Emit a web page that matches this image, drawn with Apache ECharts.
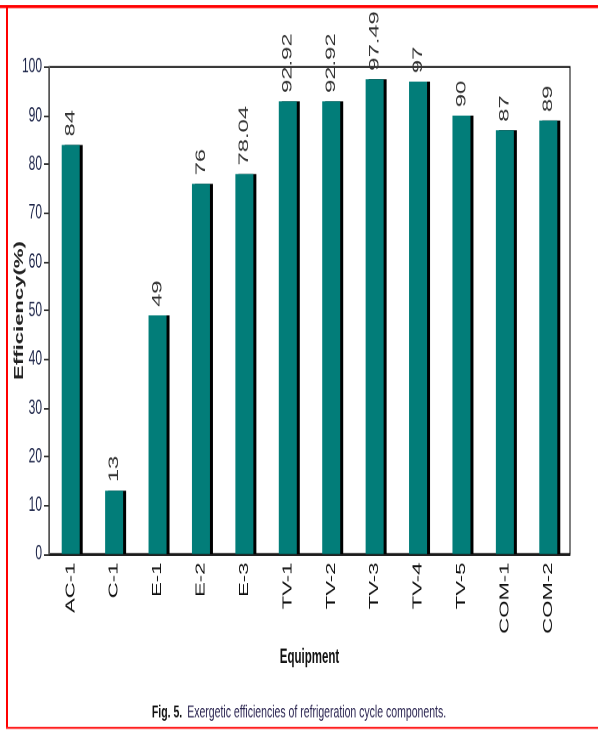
<!DOCTYPE html>
<html>
<head>
<meta charset="utf-8">
<script src="https://cdn.jsdelivr.net/npm/echarts@6/dist/echarts.min.js"></script>
<style>
  html, body { margin: 0; padding: 0; background: #fff; }
  #page { width: 598px; height: 731px; position: relative; }
  /* the original figure is stretched vertically, so draw it short and stretch it */
  #chart { position: absolute; left: 0; top: 0; width: 598px; height: 430px; transform: scaleY(1.7); transform-origin: 0 0; }
</style>
</head>
<body>
<div id="page"><div id="chart"></div></div>
<script>
// equipment and their exergetic efficiency (%)
var equipment = ['AC-1', 'C-1', 'E-1', 'E-2', 'E-3', 'TV-1', 'TV-2', 'TV-3', 'TV-4', 'TV-5', 'COM-1', 'COM-2'];
var efficiency = [84, 13, 49, 76, 78.04, 92.92, 92.92, 97.49, 97, 90, 87, 89];
var yTicks = [0, 10, 20, 30, 40, 50, 60, 70, 80, 90, 100];

var sans = 'Arial, "Liberation Sans", sans-serif';

var chart = echarts.init(document.getElementById('chart'), null, { devicePixelRatio: 2 });

var option = {
    animation: false,
    title: {
        text: '{b|Fig. 5.} {n|Exergetic efficiencies of refrigeration cycle components.}',
        left: 'center',
        top: 410,
        padding: 0,
        textStyle: {
            rich: {
                b: { fontFamily: sans, fontWeight: 'bold', fontSize: 10.5, color: '#111' },
                n: { fontFamily: sans, fontWeight: 'normal', fontSize: 10.5, color: '#2a2450' }
            }
        }
    },
    grid: {
        left: 49,
        top: 39.4,
        right: 28,
        bottom: 104.1,
        outerBoundsMode: 'none',
        show: true,
        borderColor: '#000',
        borderWidth: 1
    },
    xAxis: {
        type: 'category',
        data: equipment,
        name: 'Equipment',
        nameLocation: 'middle',
        nameGap: 55,
        nameMoveOverlap: false,
        nameTextStyle: { fontFamily: sans, fontWeight: 'bold', fontSize: 11.5, color: '#111' },
        axisLine: { lineStyle: { color: '#222', width: 1 } },
        axisTick: { show: false },
        axisLabel: {
            rotate: 90,
            margin: 5,
            fontFamily: sans,
            fontSize: 13,
            color: '#111'
        }
    },
    yAxis: {
        type: 'value',
        min: 0,
        max: 100,
        interval: 10,
        name: 'Efficiency(%)',
        nameLocation: 'middle',
        nameGap: 23,
        nameMoveOverlap: false,
        nameTextStyle: { fontFamily: sans, fontWeight: 'bold', fontSize: 13, color: '#222' },
        splitLine: { show: false },
        axisLine: { show: true, lineStyle: { color: '#555', width: 1 } },
        axisTick: { show: true, length: 5, lineStyle: { color: '#333' } },
        axisLabel: {
            margin: 7,
            fontFamily: sans,
            fontSize: 12,
            color: '#1c2448',
            formatter: function (v) { return yTicks.indexOf(v) >= 0 ? String(v) : ''; }
        }
    },
    series: [{
        type: 'bar',
        data: efficiency,
        barWidth: 18,
        itemStyle: {
            color: '#027d79',
            borderWidth: 0,
            shadowColor: '#000',
            shadowBlur: 0,
            shadowOffsetX: 3,
            shadowOffsetY: 0
        },
        label: {
            show: true,
            position: 'top',
            rotate: 90,
            align: 'left',
            verticalAlign: 'middle',
            distance: 5,
            fontFamily: sans,
            fontSize: 14,
            color: '#333'
        }
    }],
    graphic: [
        { type: 'rect', shape: { x: 0, y: 3, width: 598, height: 1.8 }, style: { fill: '#ff0000' }, silent: true },
        { type: 'rect', shape: { x: 6, y: 3, width: 2, height: 425.5 }, style: { fill: '#ff0000' }, silent: true },
        { type: 'rect', shape: { x: 6, y: 427.5, width: 592, height: 1.2 }, style: { fill: '#ff2020' }, silent: true }
    ]
};

chart.setOption(option);
</script>
</body>
</html>
